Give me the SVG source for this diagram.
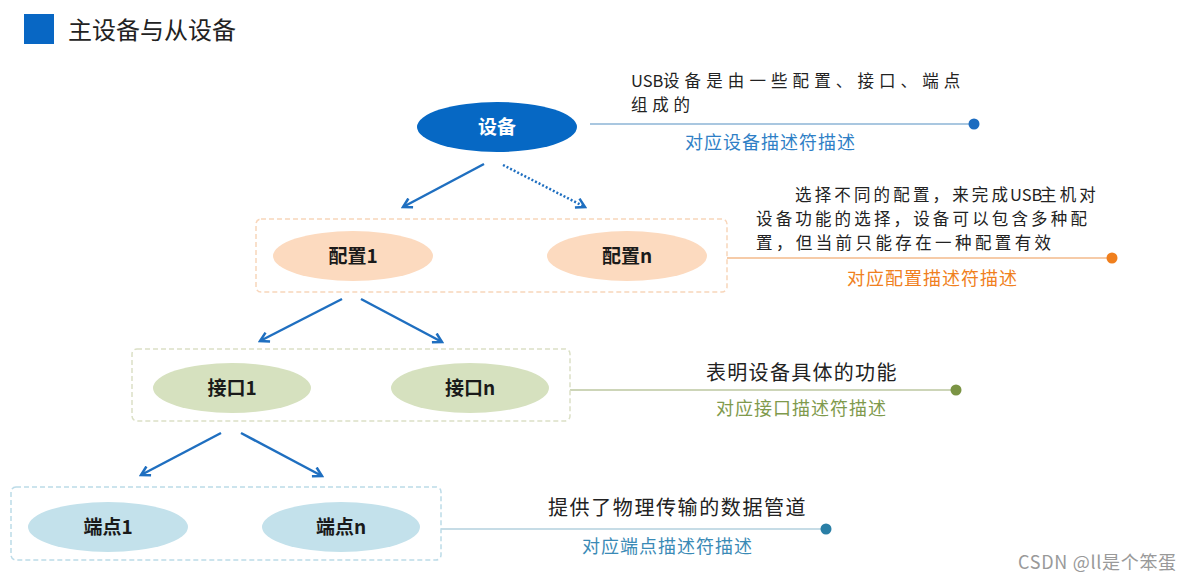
<svg xmlns="http://www.w3.org/2000/svg" width="1193" height="582" viewBox="0 0 1193 582">
<defs>
<marker id="ah" viewBox="0 0 10 10" refX="8" refY="5" markerWidth="5" markerHeight="5" orient="auto" markerUnits="strokeWidth">
<path d="M1,1 L8,5 L1,9" fill="none" stroke="#1f6fc0" stroke-width="2"/>
</marker>
<style>
text{font-family:"Noto Sans CJK SC","Noto Sans",sans-serif;}
.lbl{font-size:19px;font-weight:bold;fill:#1a1a1a;text-anchor:middle;}
.desc{font-size:20px;fill:#222;letter-spacing:0.8px;}
.ml{font-size:16.5px;fill:#222;}
.sub{font-size:18px;letter-spacing:1px;}
.arr{stroke:#1f6fc0;stroke-width:2.5;fill:none;marker-end:url(#ah);}
.box{fill:none;stroke-width:1.5;stroke-dasharray:5 3;}
</style>
</defs>
<rect width="1193" height="582" fill="#ffffff"/>
<g id="title">
<rect x="24" y="14" width="30" height="30" fill="#0867c4"/>
<text x="68" y="39" font-size="24" fill="#222">主设备与从设备</text>
</g>
<g id="connectors">
<line class="arr" x1="484" y1="164" x2="403" y2="207"/>
<line class="arr" x1="503" y1="165" x2="585" y2="207" stroke-dasharray="2 2"/>
<line class="arr" x1="342" y1="299" x2="260" y2="341"/>
<line class="arr" x1="361" y1="299" x2="442" y2="342"/>
<line class="arr" x1="221" y1="433" x2="141" y2="475"/>
<line class="arr" x1="241" y1="433" x2="322" y2="476"/>
<line x1="590" y1="124" x2="974" y2="124" stroke="#a9c7e0" stroke-width="2"/>
<circle cx="974" cy="124" r="5.5" fill="#1c6cc0"/>
<line x1="727" y1="258" x2="1112" y2="258" stroke="#f6cba8" stroke-width="2"/>
<circle cx="1112" cy="258" r="5.5" fill="#f07f1d"/>
<line x1="570" y1="390" x2="956" y2="390" stroke="#cdd5b8" stroke-width="2"/>
<circle cx="956" cy="390" r="5.5" fill="#7b9444"/>
<line x1="441" y1="529" x2="826" y2="529" stroke="#c6dce6" stroke-width="2"/>
<circle cx="826" cy="529" r="5.5" fill="#2a7fa6"/>
</g>
<g id="device">
<ellipse cx="497" cy="127" rx="80" ry="25" fill="#0668c4"/>
<text x="497" y="134" class="lbl" style="fill:#ffffff">设备</text>
</g>
<g id="device-desc">
<text y="87" class="ml"><tspan x="631">USB</tspan><tspan x="663" letter-spacing="5.1">设备是由一些配置、接口、端点</tspan></text>
<text x="631" y="111" class="ml" letter-spacing="4.8">组成的</text>
<text x="685" y="149" class="sub" fill="#2f7fc6">对应设备描述符描述</text>
</g>
<g id="config-group">
<rect x="256" y="219" width="471" height="73" rx="5" class="box" stroke="#f8d6bb"/>
</g>
<g id="config1">
<ellipse cx="353" cy="256" rx="80" ry="25" fill="#fcdabf"/>
<text x="353" y="263" class="lbl">配置1</text>
</g>
<g id="confign">
<ellipse cx="627" cy="256" rx="80" ry="25" fill="#fcdabf"/>
<text x="627" y="263" class="lbl">配置n</text>
</g>
<g id="config-desc">
<text y="201" class="ml"><tspan x="795" letter-spacing="3.15">选择不同的配置，来完成</tspan><tspan x="1010">USB</tspan><tspan x="1040" letter-spacing="3.15">主机对</tspan></text>
<text x="756" y="225" class="ml" letter-spacing="3.15">设备功能的选择，设备可以包含多种配</text>
<text x="756" y="249" class="ml" letter-spacing="3.4">置，但当前只能存在一种配置有效</text>
<text x="847" y="285" class="sub" fill="#f08020">对应配置描述符描述</text>
</g>
<g id="interface-group">
<rect x="132" y="349" width="438" height="72" rx="5" class="box" stroke="#dbe0c6"/>
</g>
<g id="interface1">
<ellipse cx="232" cy="388" rx="79" ry="25" fill="#d6e1bf"/>
<text x="232" y="395" class="lbl">接口1</text>
</g>
<g id="interfacen">
<ellipse cx="470" cy="388" rx="79" ry="25" fill="#d6e1bf"/>
<text x="470" y="395" class="lbl">接口n</text>
</g>
<g id="interface-desc">
<text x="706" y="380" class="desc" style="letter-spacing:1.3px">表明设备具体的功能</text>
<text x="716" y="415" class="sub" fill="#7f9a4c">对应接口描述符描述</text>
</g>
<g id="endpoint-group">
<rect x="11" y="487" width="430" height="73" rx="5" class="box" stroke="#bcdbe8"/>
</g>
<g id="endpoint1">
<ellipse cx="108" cy="527" rx="80" ry="25" fill="#c3e1eb"/>
<text x="108" y="534" class="lbl">端点1</text>
</g>
<g id="endpointn">
<ellipse cx="341" cy="527" rx="79" ry="25" fill="#c3e1eb"/>
<text x="341" y="534" class="lbl">端点n</text>
</g>
<g id="endpoint-desc">
<text x="548" y="515" class="desc" style="letter-spacing:1.6px">提供了物理传输的数据管道</text>
<text x="582" y="553" class="sub" fill="#3a8ab6">对应端点描述符描述</text>
</g>
<g id="watermark">
<text x="1018" y="569" font-size="18" fill="#999999" letter-spacing="0.7">CSDN @ll是个笨蛋</text>
</g>
</svg>
